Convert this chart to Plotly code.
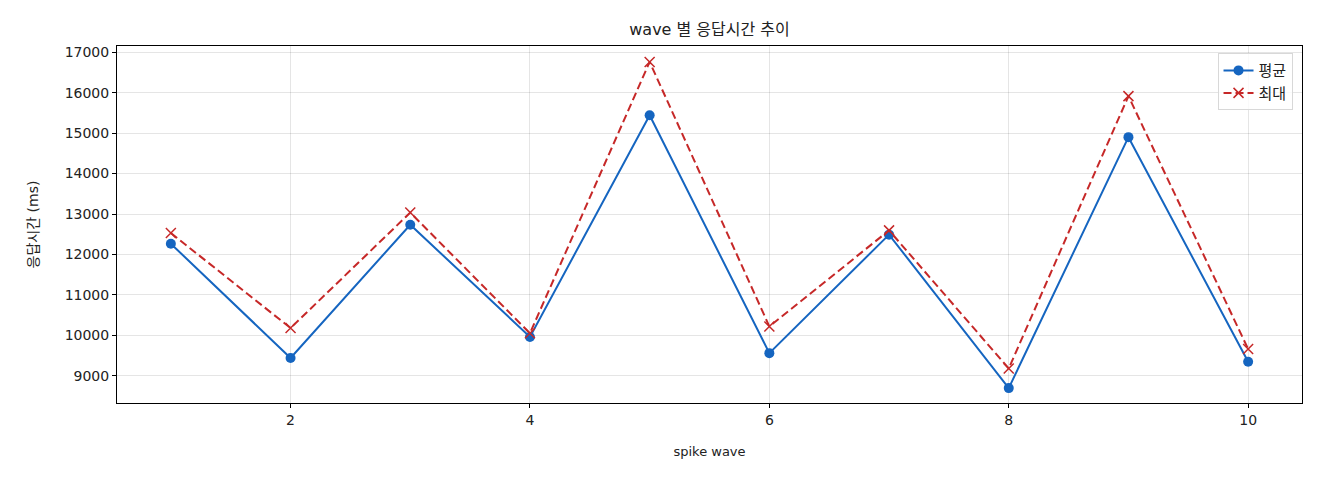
import plotly.graph_objects as go

# data
waves = [1, 2, 3, 4, 5, 6, 7, 8, 9, 10]
mean_ms = [12265, 9440, 12735, 9960, 15440, 9560, 12490, 8695, 14900, 9345]
max_ms = [12530, 10180, 13035, 10050, 16760, 10220, 12595, 9180, 15915, 9660]

FONT = "DejaVu Sans, Noto Sans CJK KR"
BLUE = "#1565c0"
RED = "#c62828"

fig = go.Figure()

fig.add_trace(go.Scatter(
    x=waves, y=mean_ms, name="평균", mode="lines+markers",
    line=dict(color=BLUE, width=2),
    marker=dict(symbol="circle", size=10, color=BLUE),
))
fig.add_trace(go.Scatter(
    x=waves, y=max_ms, name="최대", mode="lines+markers",
    line=dict(color=RED, width=2, dash="8px,4px"),
    marker=dict(symbol="x-thin", size=10, color=RED, line=dict(color=RED, width=1.5)),
))

axis_style = dict(
    showline=True, linecolor="black", linewidth=1, mirror=True,
    ticks="outside", ticklen=4, tickcolor="black",
    showgrid=True, gridcolor="rgba(0,0,0,0.1)", gridwidth=1,
    zeroline=False, tickfont=dict(size=14, color="#222"),
)

fig.update_layout(
    width=1320, height=480,
    paper_bgcolor="white", plot_bgcolor="white",
    font=dict(family=FONT, color="#222"),
    margin=dict(l=117, r=18, t=46, b=77),
    title=dict(text="wave 별 응답시간 추이", x=0.5, xref="paper", xanchor="center",
               y=1 - 29 / 480, yanchor="middle", font=dict(size=16)),
    xaxis=dict(title=dict(text="spike wave", font=dict(size=13), standoff=20),
               range=[0.55, 10.45], tickvals=[2, 4, 6, 8, 10], **axis_style),
    yaxis=dict(title=dict(text="응답시간 (ms)", font=dict(size=14), standoff=22),
               range=[8327, 17154], dtick=1000, tickformat="d", **axis_style),
    legend=dict(x=0.992, y=0.98, xanchor="right", yanchor="top",
                bgcolor="rgba(255,255,255,0.8)", bordercolor="#d8d8d8", borderwidth=1,
                font=dict(size=15), tracegroupgap=8),
    showlegend=True,
)

# the page has a default body margin; drop it so the figure sits at 0,0
fig.write_html("out.html", config={"displayModeBar": False},
               post_script="document.body.style.margin='0';")
